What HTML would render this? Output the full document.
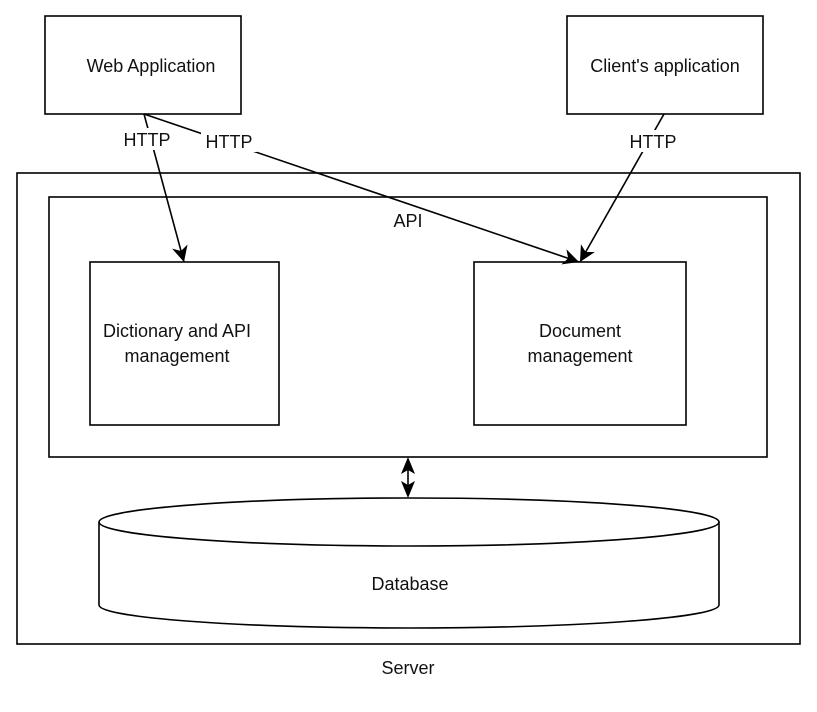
<!DOCTYPE html>
<html><head><meta charset="utf-8"><style>
html,body{margin:0;padding:0;background:#fff;}
svg{display:block;}
text{font-family:"Liberation Sans",Arial,sans-serif;font-size:18px;fill:#111;}
</style></head><body>
<svg width="817" height="712" viewBox="0 0 817 712" xmlns="http://www.w3.org/2000/svg">
<defs>
<marker id="ah" markerWidth="16" markerHeight="16" refX="14" refY="7" orient="auto" markerUnits="userSpaceOnUse" viewBox="0 0 14 14">
<path d="M0,0 L14,7 L0,14 L4,7 z" fill="#000"/>
</marker>
</defs>
<g fill="none" stroke="#000" stroke-width="1.6">
<rect x="45" y="16" width="196" height="98"/>
<rect x="567" y="16" width="196" height="98"/>
<rect x="17" y="173" width="783" height="471"/>
<rect x="49" y="197" width="718" height="260"/>
<rect x="90" y="262" width="189" height="163"/>
<rect x="474" y="262" width="212" height="163"/>
<path d="M99,522 A310,24 0 0 1 719,522 L719,605 A310,23 0 0 1 99,605 Z"/>
<path d="M99,522 A310,24 0 0 0 719,522"/>
<line x1="144" y1="114" x2="184" y2="262" marker-end="url(#ah)"/>
<line x1="144" y1="114" x2="579" y2="262" marker-end="url(#ah)"/>
<line x1="664" y1="114" x2="580" y2="262" marker-end="url(#ah)"/>
<line x1="408" y1="467" x2="408" y2="488"/>
</g>
<path d="M408,457 L415,474 L408,470 L401,474 Z M408,498 L415,481 L408,485 L401,481 Z" fill="#000"/>
<g fill="#fff">
<rect x="120" y="128" width="54" height="22"/>
<rect x="201" y="130" width="56" height="22"/>
<rect x="626" y="130" width="54" height="22"/>
</g>
<g text-anchor="middle">
<text x="151" y="72">Web Application</text>
<text x="665" y="72">Client's application</text>
<text x="147" y="146">HTTP</text>
<text x="229" y="148">HTTP</text>
<text x="653" y="148">HTTP</text>
<text x="408" y="227">API</text>
<text x="177" y="337">Dictionary and API</text>
<text x="177" y="362">management</text>
<text x="580" y="337">Document</text>
<text x="580" y="362">management</text>
<text x="410" y="590">Database</text>
<text x="408" y="674">Server</text>
</g>
</svg>
</body></html>
